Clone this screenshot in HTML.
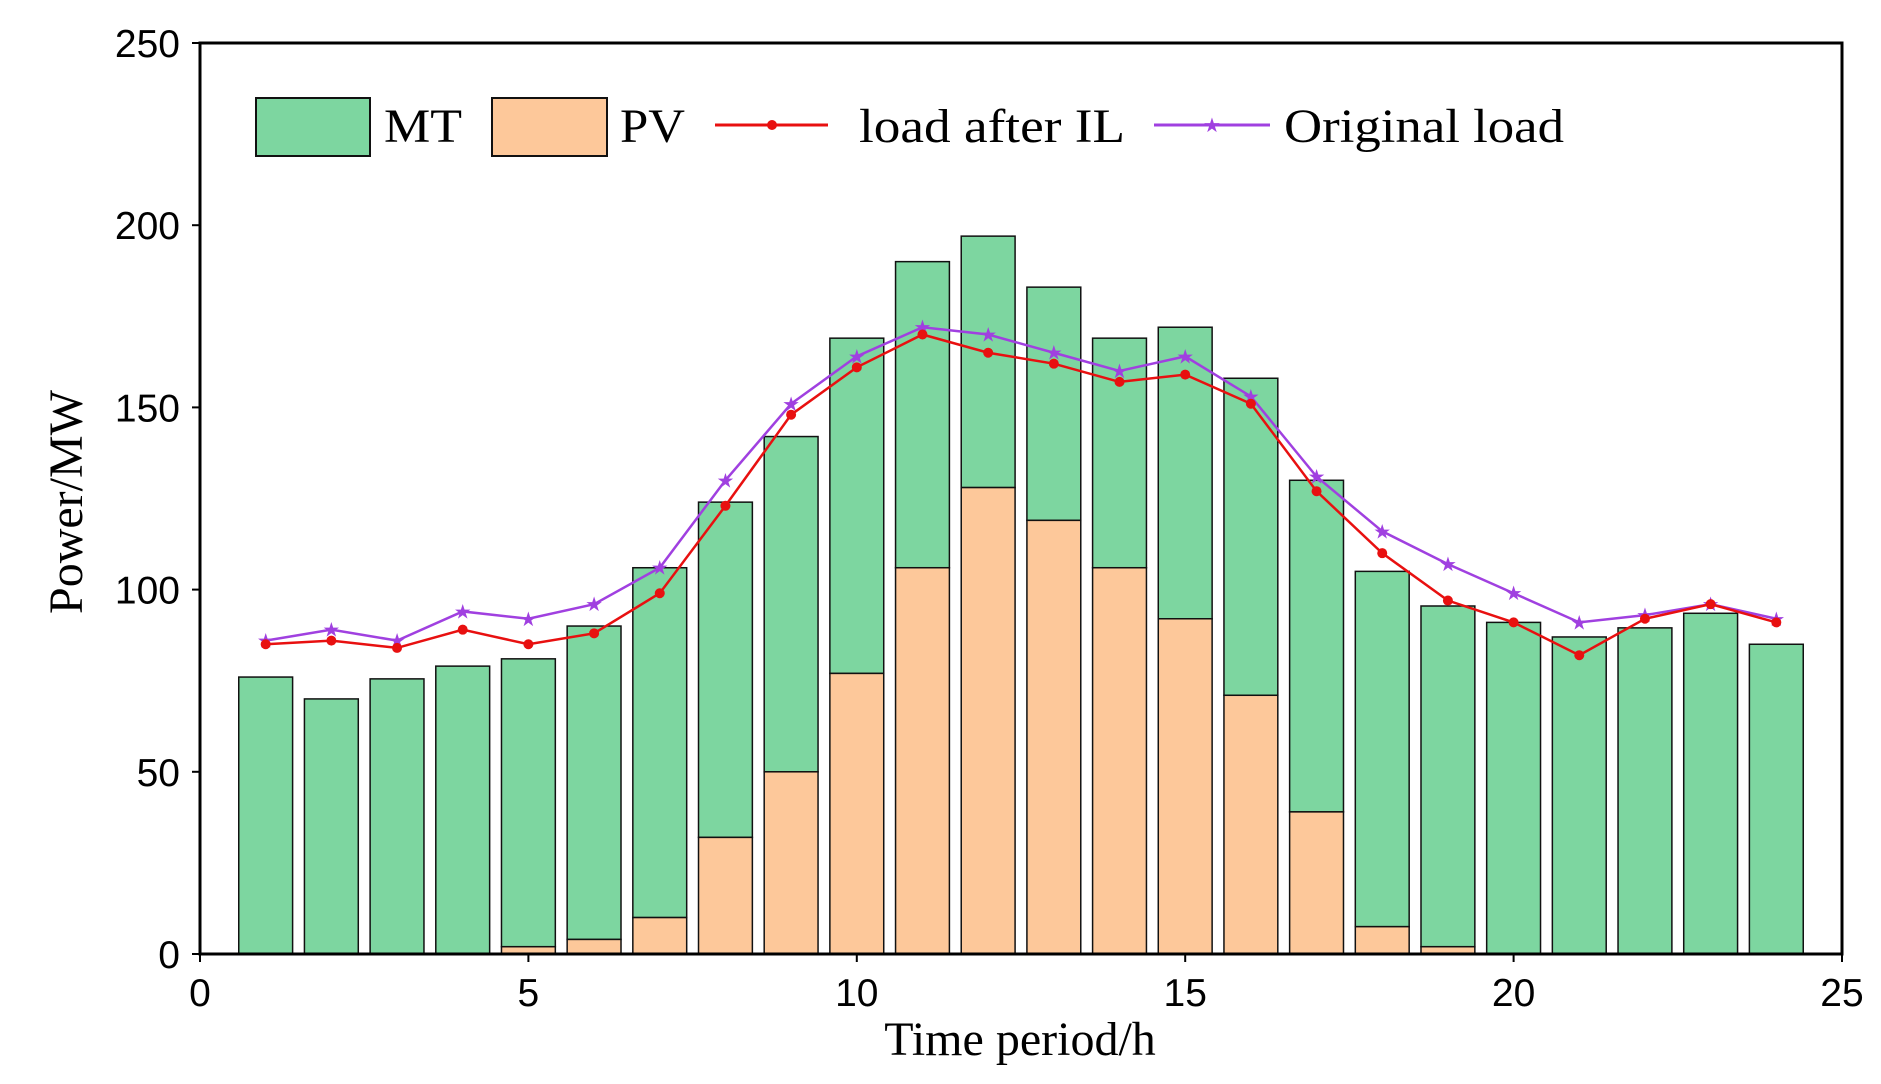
<!DOCTYPE html>
<html><head><meta charset="utf-8"><style>body{margin:0;background:#fff}svg{display:block}</style></head>
<body>
<svg id="chart" width="1881" height="1084" xmlns="http://www.w3.org/2000/svg"></svg>
<script>
const hours=[1,2,3,4,5,6,7,8,9,10,11,12,13,14,15,16,17,18,19,20,21,22,23,24];
const totalVals=[76,70,75.5,79,81,90,106,124,142,169,190,197,183,169,172,158,130,105,95.5,91,87,89.5,93.5,85];
const pvVals=[0,0,0,0,2,4,10,32,50,77,106,128,119,106,92,71,39,7.5,2,0,0,0,0,0];
const loadIL=[85,86,84,89,85,88,99,123,148,161,170,165,162,157,159,151,127,110,97,91,82,92,96,91];
const origLoad=[86,89,86,94,92,96,106,130,151,164,172,170,165,160,164,153,131,116,107,99,91,93,96,92];
const xTicks=[0,5,10,15,20,25];
const yTicks=[0,50,100,150,200,250];
const NS="http://www.w3.org/2000/svg";
const svg=document.getElementById('chart');
const L=200,R=1842,T=43,B=954;
const xs=v=>L+v/25*(R-L), ys=v=>B-v/250*(B-T);
function mk(tag,at,parent){const e=document.createElementNS(NS,tag);for(const k in at)e.setAttribute(k,at[k]);(parent||svg).appendChild(e);return e;}
const bw=(R-L)/25*0.82;
hours.forEach((h,i)=>{
  const mt=mk('rect',{x:xs(h)-bw/2,y:ys(totalVals[i]),width:bw,height:ys(pvVals[i])-ys(totalVals[i]),fill:'#7dd6a0',stroke:'#111','stroke-width':1.5});
  
  
  if(pvVals[i]>0){
    const pv=mk('rect',{x:xs(h)-bw/2,y:ys(pvVals[i]),width:bw,height:B-ys(pvVals[i]),fill:'#fdc89a',stroke:'#111','stroke-width':1.5});
    
    
  }
});
function line(vals,color,name,star){
  const p=mk('polyline',{points:hours.map((h,i)=>xs(h)+','+ys(vals[i])).join(' '),fill:'none',stroke:color,'stroke-width':2.5});
  
  
  hours.forEach((h,i)=>{
    const t=star?mk('text',{x:xs(h),y:ys(vals[i])+7,'text-anchor':'middle','font-size':20,fill:color}):mk('circle',{cx:xs(h),cy:ys(vals[i]),r:5,fill:color});
    if(star)t.textContent='★';
    
    
  });
}
line(origLoad,'#a040e0','original-load-line',true);
line(loadIL,'#e81010','load-after-il-line',false);
const frame=mk('rect',{x:L,y:T,width:R-L,height:B-T,fill:'none',stroke:'#000','stroke-width':3});


xTicks.forEach(v=>{
  mk('line',{x1:xs(v),x2:xs(v),y1:B,y2:B+8,stroke:'#000','stroke-width':2});
  const t=mk('text',{x:xs(v),y:B+52,'text-anchor':'middle','font-size':39,'font-family':'Liberation Sans, sans-serif'});
  t.textContent=v;
  
  
});
yTicks.forEach(v=>{
  mk('line',{x1:L-8,x2:L,y1:ys(v),y2:ys(v),stroke:'#000','stroke-width':2});
  const t=mk('text',{x:L-20,y:ys(v)+14,'text-anchor':'end','font-size':39,'font-family':'Liberation Sans, sans-serif'});
  t.textContent=v;
  
  
});
const xt=mk('text',{x:1020,y:1055,'text-anchor':'middle','font-size':48,'font-family':'Liberation Serif, serif'});
xt.textContent='Time period/h';


const yt=mk('text',{x:0,y:0,'text-anchor':'middle','font-size':48,'font-family':'Liberation Serif, serif',transform:'translate(82,502) rotate(-90)'});
yt.textContent='Power/MW';


const g=mk('g',{});


mk('rect',{x:256,y:98,width:114,height:58,fill:'#7dd6a0',stroke:'#111','stroke-width':2},g);
mk('rect',{x:492,y:98,width:115,height:58,fill:'#fdc89a',stroke:'#111','stroke-width':2},g);
mk('line',{x1:715,x2:828,y1:125,y2:125,stroke:'#e81010','stroke-width':3},g);
mk('circle',{cx:772,cy:125,r:5,fill:'#e81010'},g);
mk('line',{x1:1154,x2:1270,y1:125,y2:125,stroke:'#a040e0','stroke-width':3},g);
const st=mk('text',{x:1212,y:132,'text-anchor':'middle','font-size':20,fill:'#a040e0'},g);st.textContent='★';
[['MT',384,78],['PV',620,65],['load after IL',859,266],['Original load',1284,280]].forEach(([s,x,w])=>{
  const t=mk('text',{x:x,y:142,'font-size':48,'font-family':'Liberation Serif, serif',textLength:w,lengthAdjust:'spacingAndGlyphs'},g);
  t.textContent=s;
  
  
});
</script>
</body></html>
